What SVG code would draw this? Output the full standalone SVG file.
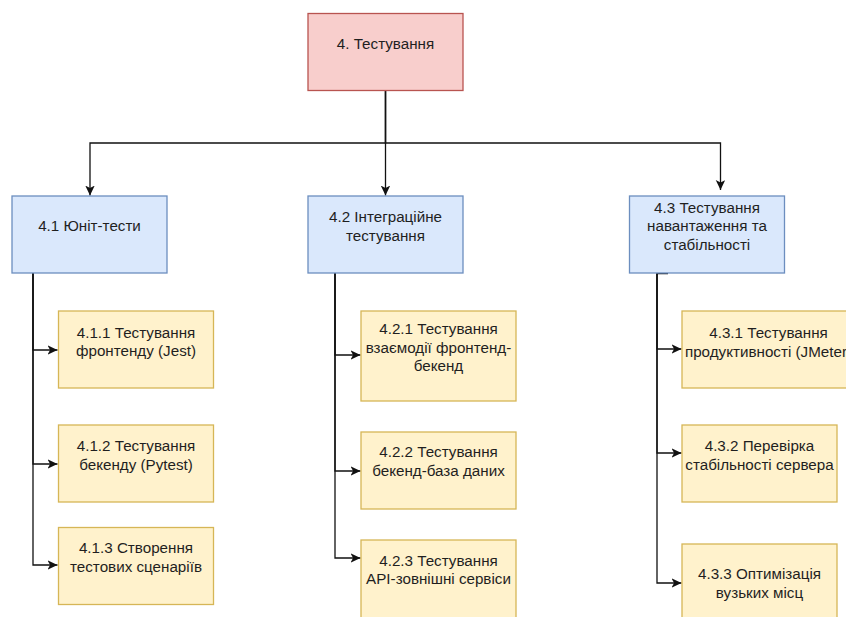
<svg xmlns="http://www.w3.org/2000/svg" width="846" height="617" viewBox="0 0 846 617">
  <style>
    .root rect { fill: #f8cecc; stroke: #b85450; stroke-width: 1.3; }
    .lvl1 rect { fill: #dae8fc; stroke: #6c8ebf; stroke-width: 1.3; }
    .lvl2 rect { fill: #fff2cc; stroke: #d6b656; stroke-width: 1.3; }
    text { font-family: "Liberation Sans", Arial, sans-serif; font-size: 15.2px; fill: #1f1f1f; text-anchor: middle; }
    .edges path { fill: none; stroke: #111; stroke-width: 1.3; }
  </style>
  <defs>
    <marker id="arrow" markerUnits="userSpaceOnUse" markerWidth="11" markerHeight="10" refX="10" refY="4.75" orient="auto">
      <path d="M0,0 L10,4.75 L0,9.5 L2.6,4.75 z" fill="#111"/>
    </marker>
  </defs>
  <rect width="846" height="617" fill="#ffffff"/>

  <!-- connectors -->
  <g class="edges">
    <path d="M385.5,90 V143 H90 V195.5" marker-end="url(#arrow)"/>
    <path d="M385.5,90 V195.5" marker-end="url(#arrow)"/>
    <path d="M385.5,90 V143 H720.5 V190" marker-end="url(#arrow)"/>

    <path d="M33,273 V350 H57.5" marker-end="url(#arrow)"/>
    <path d="M33,273 V464 H57.5" marker-end="url(#arrow)"/>
    <path d="M33,273 V565 H57.5" marker-end="url(#arrow)"/>

    <path d="M335,273 V355 H360.5" marker-end="url(#arrow)"/>
    <path d="M335,273 V471 H360.5" marker-end="url(#arrow)"/>
    <path d="M335,273 V558 H360.5" marker-end="url(#arrow)"/>

    <path d="M668,273.5 H657 V349 H681.5" marker-end="url(#arrow)"/>
    <path d="M657,273.5 V453 H681.5" marker-end="url(#arrow)"/>
    <path d="M657,273.5 V583 H681.5" marker-end="url(#arrow)"/>
  </g>

  <!-- root -->
  <g id="n4" class="root">
    <rect x="308" y="13.5" width="155" height="77"/>
    <text x="385.5" y="48.8">4. Тестування</text>
  </g>

  <!-- level 1 -->
  <g id="n4_1" class="lvl1">
    <rect x="12" y="196" width="155" height="77"/>
    <text x="89.5" y="231">4.1 Юніт-тести</text>
  </g>
  <g id="n4_2" class="lvl1">
    <rect x="308" y="196" width="155" height="77"/>
    <text x="385.5" y="222">4.2 Інтеграційне</text>
    <text x="385.5" y="240.5">тестування</text>
  </g>
  <g id="n4_3" class="lvl1">
    <rect x="629.5" y="196" width="155" height="77"/>
    <text x="707" y="213">4.3 Тестування</text>
    <text x="707" y="231.2">навантаження та</text>
    <text x="707" y="249.5">стабільності</text>
  </g>

  <!-- level 2 under 4.1 -->
  <g id="n4_1_1" class="lvl2">
    <rect x="58.5" y="311" width="155" height="77"/>
    <text x="136" y="337.5">4.1.1 Тестування</text>
    <text x="136" y="355.5">фронтенду (Jest)</text>
  </g>
  <g id="n4_1_2" class="lvl2">
    <rect x="58.5" y="425" width="155" height="77"/>
    <text x="136" y="451">4.1.2 Тестування</text>
    <text x="136" y="469.5">бекенду (Pytest)</text>
  </g>
  <g id="n4_1_3" class="lvl2">
    <rect x="58.5" y="527.5" width="155" height="77"/>
    <text x="136" y="553">4.1.3 Створення</text>
    <text x="136" y="571.5">тестових сценаріїв</text>
  </g>

  <!-- level 2 under 4.2 -->
  <g id="n4_2_1" class="lvl2">
    <rect x="361" y="311" width="155" height="90"/>
    <text x="438.5" y="334">4.2.1 Тестування</text>
    <text x="438.5" y="352.5">взаємодії фронтенд-</text>
    <text x="438.5" y="371">бекенд</text>
  </g>
  <g id="n4_2_2" class="lvl2">
    <rect x="361" y="432" width="155" height="77"/>
    <text x="438.5" y="457">4.2.2 Тестування</text>
    <text x="438.5" y="475.5">бекенд-база даних</text>
  </g>
  <g id="n4_2_3" class="lvl2">
    <rect x="361" y="540" width="155" height="90"/>
    <text x="438.5" y="565.5">4.2.3 Тестування</text>
    <text x="438.5" y="584">API-зовнішні сервіси</text>
  </g>

  <!-- level 2 under 4.3 -->
  <g id="n4_3_1" class="lvl2">
    <rect x="682" y="311" width="174" height="77"/>
    <text x="768.5" y="338">4.3.1 Тестування</text>
    <text x="768.5" y="356.5">продуктивності (JMeter)</text>
  </g>
  <g id="n4_3_2" class="lvl2">
    <rect x="682" y="425" width="155" height="77"/>
    <text x="759.5" y="450.5">4.3.2 Перевірка</text>
    <text x="759.5" y="469.5">стабільності сервера</text>
  </g>
  <g id="n4_3_3" class="lvl2">
    <rect x="682" y="544" width="155" height="90"/>
    <text x="759.5" y="579">4.3.3 Оптимізація</text>
    <text x="759.5" y="598">вузьких місц</text>
  </g>
</svg>
